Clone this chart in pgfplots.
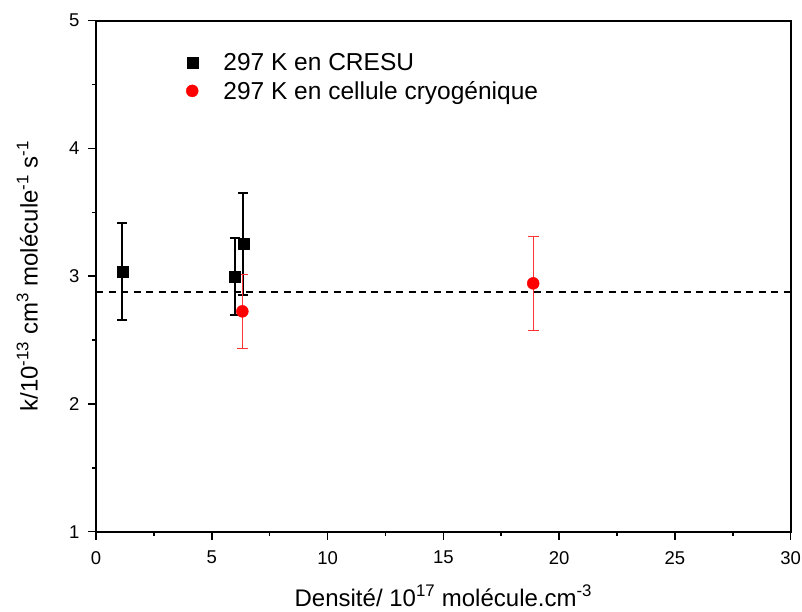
\documentclass[border=0pt]{standalone}
\usepackage{fontspec}
\setmainfont{Liberation Sans}
\usepackage{pgfplots}
\pgfplotsset{compat=1.18}

\begin{document}
\begin{tikzpicture}
\useasboundingbox (0,0) rectangle (802pt,611pt);
\begin{axis}[
    at={(96pt,79.3pt)}, anchor=south west,
    scale only axis, width=694.7pt, height=511pt,
    xmin=0, xmax=30, ymin=1, ymax=5,
    xtick={0,5,...,30}, ytick={1,2,3,4,5},
    minor x tick num=1, minor y tick num=1,
    tick align=outside, tick pos=left,
    major tick length=8pt, minor tick length=4pt,
    axis line style={line width=1.8pt},
    every tick/.append style={line width=1.5pt, black},
    /pgf/number format/assume math mode=true,
    ticklabel style={font=\fontsize{18.5}{22}\selectfont},
    xticklabel style={yshift=-8pt},
    yticklabel style={xshift=-5pt},
    label style={font=\fontsize{24}{28}\selectfont},
    xlabel={Densité/ 10\textsuperscript{17} molécule.cm\textsuperscript{-3}},
    ylabel={k/10\textsuperscript{-13} cm\textsuperscript{3} molécule\textsuperscript{-1} s\textsuperscript{-1}},
    xlabel style={at={(axis description cs:0.5,-0.1454)}, anchor=base},
    ylabel style={at={(axis description cs:-0.0842,0.5)}, anchor=base},
    legend style={draw=none, fill=none, at={(axis description cs:0.125,0.944)}, anchor=north west,
        font=\fontsize{24.5}{29}\selectfont, row sep=5pt},
    legend cell align=left,
    legend image code/.code={
        \path (-6pt,0pt) (29pt,0pt);
        \draw[#1] plot coordinates {(0pt,0pt)};
    },
]

% dashed reference line
\addplot[forget plot, black, line width=1.8pt, dash pattern=on 7pt off 5.5pt]
    coordinates {(0,2.874) (30,2.874)};

\addplot[only marks, mark=square*, mark size=5.5pt, black,
    error bars/.cd, y dir=both, y explicit,
    error bar style={line width=2pt, black},
    error mark options={rotate=90, mark size=5pt, line width=2pt, black}]
    table[x=x, y=y, y error=e] {
x     y      e
1.14  3.035  0.38
6.00  3.00   0.30
6.36  3.252  0.40
};
\addlegendentry{297 K en CRESU}

\addplot[only marks, mark=*, mark size=6pt, red, fill=red,
    error bars/.cd, y dir=both, y explicit,
    error bar style={line width=1pt, red!80},
    error mark options={rotate=90, mark size=5.5pt, line width=1pt, red!80}]
    table[x=x, y=y, y error=e] {
x     y      e
6.32  2.725  0.29
18.88 2.944  0.37
};
\addlegendentry{297 K en cellule cryogénique}
\end{axis}
\end{tikzpicture}
\end{document}
